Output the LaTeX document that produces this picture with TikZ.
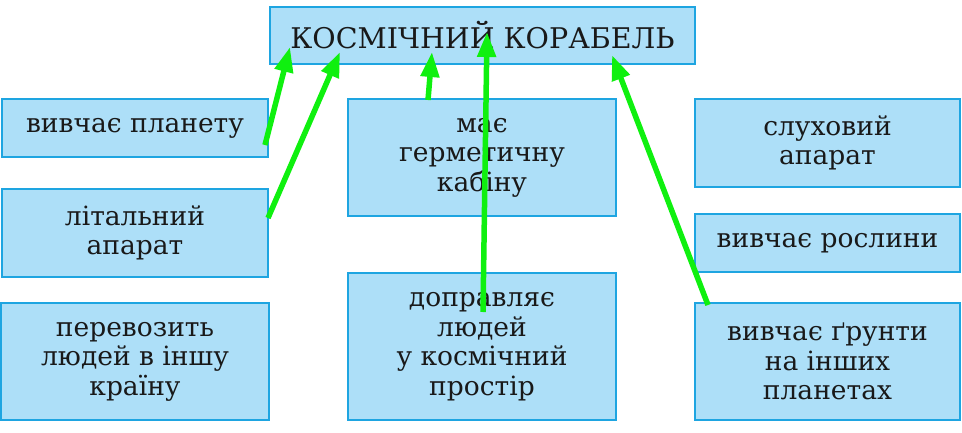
\documentclass[tikz,border=0pt]{standalone}
\usepackage{fontspec}
\setmainfont{DejaVu Serif}
\usetikzlibrary{arrows.meta}
\definecolor{boxfill}{RGB}{173,223,248}
\definecolor{boxline}{RGB}{30,165,225}
\definecolor{arrowgreen}{RGB}{15,240,15}
\definecolor{textdark}{RGB}{25,25,25}
\tikzset{
  cardbox/.style={draw=boxline, fill=boxfill, line width=1.3pt, align=center,
    inner sep=0pt, text=textdark,
    font=\fontsize{26.5}{29.5}\selectfont},
  titlebox/.style={cardbox, font=\fontsize{28.5}{32}\selectfont},
  greenarrow/.style={draw=arrowgreen, line width=5.5pt,
    -{Triangle[length=25pt,width=18pt]}}
}
\begin{document}
\begin{tikzpicture}[x=1pt,y=-1pt]
\useasboundingbox (0,0) rectangle (962,432);
\node[titlebox, minimum width=425pt, minimum height=57pt] (title) at (482.5,35.5) {КОСМІЧНИЙ КОРАБЕЛЬ};
\node[cardbox, minimum width=266pt, minimum height=58pt] (b1) at (135,128) {вивчає планету};
\node[cardbox, minimum width=266pt, minimum height=88pt] (b2) at (135,233) {літальний\\апарат};
\node[cardbox, minimum width=268pt, minimum height=117pt] (b3) at (135,361.5) {перевозить\\людей в іншу\\країну};
\node[cardbox, minimum width=268pt, minimum height=117pt] (m1) at (482,157.5) {має\\герметичну\\кабіну};
\node[cardbox, minimum width=268pt, minimum height=147pt] (m2) at (482,346.5) {доправляє\\людей\\у космічний\\простір};
\node[cardbox, minimum width=265pt, minimum height=88pt] (r1) at (827.5,143) {слуховий\\апарат};
\node[cardbox, minimum width=265pt, minimum height=58pt] (r2) at (827.5,243) {вивчає рослини};
\node[cardbox, minimum width=265pt, minimum height=117pt] (r3) at (827.5,361.5) {вивчає ґрунти\\на інших\\планетах};
% arrow ends
\coordinate (t1) at (265,145);
\coordinate (h1) at (290,47);
\coordinate (t2) at (268,218);
\coordinate (h2) at (340,52);
\coordinate (t3) at (428,100);
\coordinate (h3) at (432,52);
\coordinate (t4) at (483,312);
\coordinate (h4) at (487,32);
\coordinate (t5) at (708,305);
\coordinate (h5) at (612,55);
\draw[greenarrow] (t1) -- (h1);
\draw[greenarrow] (t2) -- (h2);
\draw[greenarrow] (t3) -- (h3);
\draw[greenarrow] (t4) -- (h4);
\draw[greenarrow] (t5) -- (h5);
\end{tikzpicture}
\end{document}
